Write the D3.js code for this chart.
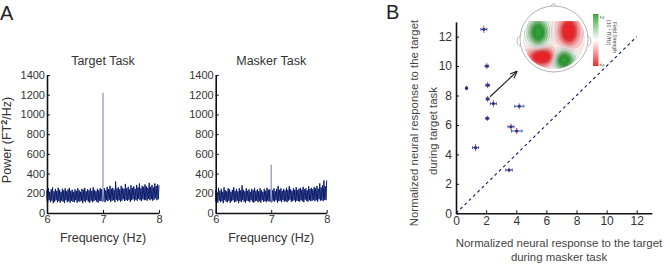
<!DOCTYPE html>
<html><head><meta charset="utf-8">
<script src="https://cdn.jsdelivr.net/npm/d3@7"></script>
<style>
body{margin:0;background:#fff}
svg{display:block;font-family:"Liberation Sans",Arial,sans-serif}
</style>
</head><body><div id="chart"></div>
<script>
// spectra, 6 -> 8 Hz in 0.025 Hz steps, band low / band high
var freqStart = 6, freqStep = 0.025;
var targetLow = [120,105,130,110,125,100,115,130,110,120,
  105,125,115,100,130,110,120,105,125,115,
  110,130,105,120,115,125,100,120,110,130,
  115,105,125,110,120,130,115,105,125,120,
  120,
  125,110,130,120,135,115,125,130,110,135,
  120,130,115,125,140,120,130,125,135,115,
  130,140,120,135,125,145,130,120,140,130,
  135,125,145,130,140,125,135,150,130,140];
var targetHigh = [230,250,215,240,260,220,245,225,255,235,
  215,245,230,250,220,240,255,225,235,215,
  240,225,250,230,215,245,235,255,220,240,
  230,250,225,260,235,220,245,230,250,240,
  1220,
  250,230,265,240,275,245,255,235,320,250,
  260,240,275,255,245,295,250,265,240,280,
  255,270,245,285,260,300,250,275,265,290,
  270,255,305,265,285,260,300,275,290,280];
var maskerLow = [115,130,105,125,110,120,100,130,115,110,
  125,105,120,130,110,115,125,100,120,110,
  130,115,105,125,120,110,130,115,105,120,
  125,110,120,105,130,115,120,110,125,115,
  120,
  110,125,115,130,105,120,125,110,130,115,
  120,110,125,135,115,120,130,110,125,120,
  115,130,120,110,135,125,115,130,120,125,
  135,120,130,115,140,125,130,120,135,130];
var maskerHigh = [235,210,255,225,245,215,260,230,220,250,
  240,215,235,260,225,245,220,250,230,280,
  235,220,250,225,240,215,245,230,255,225,
  240,220,250,230,215,245,225,255,235,240,
  490,
  230,250,220,245,275,235,250,225,245,230,
  255,235,270,240,225,250,235,260,230,245,
  255,235,265,240,250,230,270,245,255,240,
  265,250,275,245,300,260,280,330,270,330];
var peakFreq = 7;
var powerTicks = [0,200,400,600,800,1000,1200,1400];
var freqTicks = [6,7,8];

// panel B: normalized responses per subject
var maskerResp = [1.85,2.05,0.7,2.1,2.1,2.48,2.08,4.2,3.65,4.03,1.3,3.52];
var targetResp = [12.5,10.0,8.5,8.7,7.77,7.45,6.45,7.27,5.88,5.59,4.46,2.94];
var maskerErr  = [0.2,0.12,0.05,0.12,0.1,0.2,0.1,0.3,0.2,0.35,0.2,0.22];
var targetErr  = [0.15,0.1,0.05,0.1,0.1,0.15,0.08,0.1,0.12,0.1,0.15,0.05];
var respTicks = [0,2,4,6,8,10,12];
var unityLine = [0,12];
var arrowFrom = [2.26,7.92], arrowTo = [4.03,9.62];

// topography inset: field sources in head units (-1..1), + = green, - = red
var topoX  = [-0.48, 0.42,-0.36, 0.27];
var topoY  = [-0.22,-0.25, 0.52, 0.62];
var topoSx = [0.26,0.25,0.36,0.28];
var topoSy = [0.38,0.38,0.24,0.28];
var topoV  = [1.3,-1.3,-1.3,1.3];

var svg = d3.select("#chart").append("svg").attr("width",670).attr("height",264);
var navy = "#0b1c6e";
var font = "Liberation Sans, Arial, sans-serif";

svg.append("text").attr("x",0).attr("y",20).style("font-size","20px").attr("fill","#222").text("A");
svg.append("text").attr("x",386).attr("y",19).style("font-size","20px").attr("fill","#222").text("B");

function spectrum(x0, x1, title, low, high) {
  var x = d3.scaleLinear().domain([6,8]).range([x0,x1]);
  var y = d3.scaleLinear().domain([0,1400]).range([213,75]);
  var pk = Math.round((peakFreq - freqStart)/freqStep);
  var pts = [];
  low.forEach(function(v,i){
    var f = freqStart + i*freqStep;
    pts.push([Math.max(6, f - freqStep/2), v, false]);
    pts.push([f, high[i], i === pk]);
  });
  // band drawn without the single peak bin, which renders lighter in the source
  var line = d3.line().defined(function(d){return !d[2];})
    .x(function(d){return x(d[0]);}).y(function(d){return y(d[1]);});
  svg.append("path").datum(pts.filter(function(d){return !d[2];})).attr("d",line)
    .attr("fill","none").attr("stroke",navy).attr("stroke-width",1).attr("stroke-linejoin","miter");
  svg.append("line").attr("x1",x(peakFreq)).attr("x2",x(peakFreq))
    .attr("y1",y(high[pk])).attr("y2",y(low[pk]))
    .attr("stroke","#7f80bd").attr("stroke-width",1.1);

  var ya = svg.append("g").attr("transform","translate("+x0+",0)")
    .call(d3.axisLeft(y).tickValues(powerTicks).tickFormat(d3.format("d")).tickSizeInner(-3).tickSizeOuter(0).tickPadding(2));
  var xa = svg.append("g").attr("transform","translate(0,213)")
    .call(d3.axisBottom(x).tickValues(freqTicks).tickFormat(d3.format("d")).tickSizeInner(-3).tickSizeOuter(0).tickPadding(2));
  [ya,xa].forEach(function(a){
    a.attr("font-family",font);
    a.select(".domain").attr("stroke","#111").attr("stroke-width",1.6);
    a.selectAll(".tick line").attr("stroke","#111");
    a.selectAll(".tick text").attr("fill","#333").style("font-size","11px");
  });
  svg.append("text").attr("x",(x0+x1)/2).attr("y",65).attr("text-anchor","middle")
    .style("font-size","12.5px").attr("fill","#333").text(title);
  svg.append("text").attr("x",(x0+x1)/2).attr("y",242).attr("text-anchor","middle")
    .style("font-size","12.5px").attr("fill","#333").text("Frequency (Hz)");
}
spectrum(47,159,"Target Task",targetLow,targetHigh);
spectrum(215.7,326.7,"Masker Task",maskerLow,maskerHigh);

var pl = svg.append("text").attr("transform","translate(10.5,140) rotate(-90)").attr("text-anchor","middle")
  .style("font-size","12.5px").attr("fill","#333");
pl.append("tspan").text("Power (FT");
pl.append("tspan").attr("dy",-4).style("font-size","9px").style("font-weight","bold").text("2");
pl.append("tspan").attr("dy",4).text("/Hz)");

// ---- panel B ----
var bx = d3.scaleLinear().domain([0,13]).range([456,651.8]);
var by = d3.scaleLinear().domain([0,13]).range([213.3,21.9]);

svg.append("line")
  .attr("x1",bx(unityLine[0])).attr("y1",by(unityLine[0]))
  .attr("x2",bx(unityLine[1])).attr("y2",by(unityLine[1]))
  .attr("stroke",navy).attr("stroke-width",1.1).attr("stroke-dasharray","3,3");

var bya = svg.append("g").attr("transform","translate(456,0)")
  .call(d3.axisLeft(by).tickValues(respTicks).tickSizeInner(-3).tickSizeOuter(0).tickPadding(4));
var bxa = svg.append("g").attr("transform","translate(0,213.3)")
  .call(d3.axisBottom(bx).tickValues(respTicks).tickSizeInner(-3).tickSizeOuter(0).tickPadding(3));
[bya,bxa].forEach(function(a){
  a.attr("font-family",font);
  a.select(".domain").attr("stroke","#111").attr("stroke-width",1.6);
  a.selectAll(".tick line").attr("stroke","#111");
  a.selectAll(".tick text").attr("fill","#333").style("font-size","12px");
});

svg.append("text").attr("transform","translate(418,123) rotate(-90)").attr("text-anchor","middle")
  .style("font-size","11.4px").attr("fill","#444").text("Normalized neural response to the target");
svg.append("text").attr("transform","translate(437,131) rotate(-90)").attr("text-anchor","middle")
  .style("font-size","11.4px").attr("fill","#444").text("during target task");
svg.append("text").attr("x",559).attr("y",247).attr("text-anchor","middle")
  .style("font-size","11.4px").attr("fill","#444").text("Normalized neural response to the target");
svg.append("text").attr("x",559).attr("y",261).attr("text-anchor","middle")
  .style("font-size","11.4px").attr("fill","#444").text("during masker task");

var pts = maskerResp.map(function(m,i){return {x:m,y:targetResp[i],ex:maskerErr[i],ey:targetErr[i]};});
var pg = svg.append("g").selectAll("g").data(pts).join("g");
pg.append("line").attr("x1",function(d){return bx(d.x);}).attr("x2",function(d){return bx(d.x);})
  .attr("y1",function(d){return by(d.y-d.ey)+1.5;}).attr("y2",function(d){return by(d.y+d.ey)-1.5;})
  .attr("stroke","#e8464c").attr("stroke-width",1);
pg.append("line").attr("x1",function(d){return bx(d.x-d.ex);}).attr("x2",function(d){return bx(d.x+d.ex);})
  .attr("y1",function(d){return by(d.y);}).attr("y2",function(d){return by(d.y);})
  .attr("stroke","#3a4aa8").attr("stroke-width",1);
pg.selectAll("line.cap").data(function(d){return [[d.x-d.ex,d.y],[d.x+d.ex,d.y]];}).join("line").attr("class","cap")
  .attr("x1",function(c){return bx(c[0]);}).attr("x2",function(c){return bx(c[0]);})
  .attr("y1",function(c){return by(c[1])-1.5;}).attr("y2",function(c){return by(c[1])+1.5;})
  .attr("stroke","#3a4aa8").attr("stroke-width",0.9);
pg.append("circle").attr("cx",function(d){return bx(d.x);}).attr("cy",function(d){return by(d.y);})
  .attr("r",1.6).attr("fill","#2a2f80");

// arrow
var defs = svg.append("defs");
defs.append("marker").attr("id","ah").attr("viewBox","0 0 10 10").attr("refX",9).attr("refY",5)
  .attr("markerWidth",6).attr("markerHeight",6).attr("orient","auto")
  .append("path").attr("d","M0,1L10,5L0,9").attr("fill","none").attr("stroke","#222").attr("stroke-width",1.6);
svg.append("line").attr("x1",bx(arrowFrom[0])).attr("y1",by(arrowFrom[1]))
  .attr("x2",bx(arrowTo[0])).attr("y2",by(arrowTo[1]))
  .attr("stroke","#222").attr("stroke-width",1.2).attr("marker-end","url(#ah)");

// ---- topography inset ----
var hx = d3.scaleLinear().domain([-1,1]).range([520,588]);
var hy = d3.scaleLinear().domain([-1,1]).range([6,72]);
var head = svg.append("g");
head.append("path").attr("d","M550,7.5L553.5,3L557,7.5").attr("fill","#fff").attr("stroke","#aaa").attr("stroke-width",0.8);
head.append("path").attr("d","M520.5,36 C516,36 516,46 520.5,46").attr("fill","none").attr("stroke","#aaa").attr("stroke-width",0.8);
head.append("path").attr("d","M587.5,36 C592,36 592,46 587.5,46").attr("fill","none").attr("stroke","#aaa").attr("stroke-width",0.8);
head.append("ellipse").attr("cx",hx(0)).attr("cy",hy(0)).attr("rx",34).attr("ry",33)
  .attr("fill","#fff").attr("stroke","#aaa").attr("stroke-width",0.9);

defs.append("clipPath").attr("id","hc").append("ellipse").attr("cx",hx(0)).attr("cy",hy(0)).attr("rx",31).attr("ry",30);
defs.append("clipPath").attr("id","hr").append("rect").attr("x",515).attr("y",21).attr("width",80).attr("height",60);

var n = 60, field = new Array(n*n);
for (var j=0;j<n;j++) for (var i=0;i<n;i++) {
  var u = -1 + 2*i/(n-1), w = -1 + 2*j/(n-1), s = 0;
  topoV.forEach(function(v,k){
    s += v*Math.exp(-(Math.pow((u-topoX[k])/topoSx[k],2)+Math.pow((w-topoY[k])/topoSy[k],2)));
  });
  field[j*n+i] = s - 0.08;
}
var proj = d3.geoTransform({point:function(px,py){
  this.stream.point(hx(-1+2*px/(n-1)), hy(-1+2*py/(n-1)));
}});
var gpath = d3.geoPath(proj);
var thr = [0.03,0.15,0.3,0.45,0.6,0.75,0.9,1.05];
var green = d3.scaleLinear().domain([0,0.8]).range(["#f4fbf4","#2ea235"]).clamp(true);
var red = d3.scaleLinear().domain([0,0.8]).range(["#fbeaea","#ec2226"]).clamp(true);
var mapG = head.append("g").attr("clip-path","url(#hc)").append("g").attr("clip-path","url(#hr)");
var pos = d3.contours().size([n,n]).thresholds(thr)(field);
var neg = d3.contours().size([n,n]).thresholds(thr)(field.map(function(v){return -v;}));
mapG.selectAll("path.r").data(neg).join("path").attr("class","r").attr("d",gpath)
  .attr("fill",function(d){return red(d.value);}).attr("stroke","#777").attr("stroke-width",0.35).attr("stroke-opacity",0.5);
mapG.selectAll("path.g").data(pos).join("path").attr("class","g").attr("d",gpath)
  .attr("fill",function(d){return green(d.value);}).attr("stroke","#333").attr("stroke-width",0.35).attr("stroke-opacity",0.6);

// colour bar
var cb = defs.append("linearGradient").attr("id","cb").attr("x1",0).attr("y1",0).attr("x2",0).attr("y2",1);
cb.append("stop").attr("offset","0%").attr("stop-color","#3aa83c");
cb.append("stop").attr("offset","50%").attr("stop-color","#ffffff");
cb.append("stop").attr("offset","100%").attr("stop-color","#ec2a2e");
svg.append("rect").attr("x",593).attr("y",14).attr("width",5.5).attr("height",52).attr("fill","url(#cb)");
svg.append("text").attr("transform","translate(600,16) rotate(90)").style("font-size","5px").attr("fill","#333").text("2");
svg.append("text").attr("transform","translate(600,62) rotate(90)").style("font-size","5px").attr("fill","#333").text("-2");
svg.append("text").attr("transform","translate(613,22) rotate(90)").style("font-size","5px").attr("fill","#444").text("Field Strength");
var cu = svg.append("text").attr("transform","translate(607,20) rotate(90)").style("font-size","5px").attr("fill","#444");
cu.append("tspan").text("(10");
cu.append("tspan").attr("dy",-2).style("font-size","3.5px").text("-1");
cu.append("tspan").attr("dy",2).text(" fT/Hz)");
</script>
</body></html>
